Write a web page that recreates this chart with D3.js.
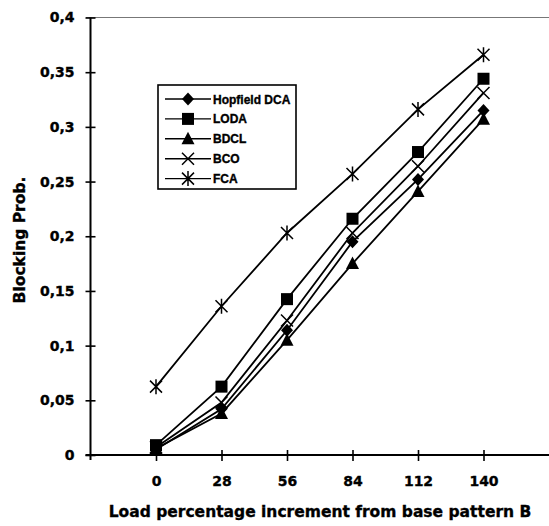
<!DOCTYPE html>
<html><head><meta charset="utf-8">
<script src="https://cdn.jsdelivr.net/npm/d3@7/dist/d3.min.js"></script>
<style>body{margin:0;background:#fff}svg{display:block}</style>
</head><body><svg id="c" width="549" height="526"></svg>
<script>
const categories = [0, 28, 56, 84, 112, 140];
const hopfield = [0.005, 0.042, 0.114, 0.195, 0.252, 0.315];
const loda     = [0.009, 0.0625, 0.1425, 0.216, 0.277, 0.344];
const bdcl     = [0.006, 0.038, 0.105, 0.175, 0.241, 0.307];
const bco      = [0.007, 0.048, 0.123, 0.203, 0.264, 0.331];
const fca      = [0.0625, 0.136, 0.203, 0.257, 0.316, 0.366];
const seriesNames = ["Hopfield DCA", "LODA", "BDCL", "BCO", "FCA"];
const yTicks = [0, 0.05, 0.1, 0.15, 0.2, 0.25, 0.3, 0.35, 0.4];
const yTickLabels = ["0", "0,05", "0,1", "0,15", "0,2", "0,25", "0,3", "0,35", "0,4"];
const xTitle = "Load percentage increment from base pattern B";
const yTitle = "Blocking Prob.";

const series = [
  {name: seriesNames[0], values: hopfield, marker: "diamond"},
  {name: seriesNames[1], values: loda, marker: "square"},
  {name: seriesNames[2], values: bdcl, marker: "triangle"},
  {name: seriesNames[3], values: bco, marker: "x"},
  {name: seriesNames[4], values: fca, marker: "asterisk"}
];

const svg = d3.select("#c");
const x = d3.scaleLinear().domain([-28, 168]).range([90.5, 549]);
const y = d3.scaleLinear().domain([0, 0.4]).range([455, 17.5]);

function heavy(sel) {
  return sel.attr("stroke", "#000").attr("stroke-width", 0.35).attr("fill", "#000");
}

// top frame line
svg.append("line").attr("x1", 86).attr("x2", 549).attr("y1", y(0.4)).attr("y2", y(0.4))
  .attr("stroke", "#777").attr("stroke-width", 1);

// y axis
const yAxis = d3.axisLeft(y).tickValues(yTicks).tickFormat((d,i)=>yTickLabels[i]).tickSize(0).tickPadding(16);
const gy = svg.append("g").attr("transform", `translate(${x(-28)},0)`).call(yAxis);
gy.select(".domain").remove();
heavy(gy.selectAll("text").attr("font-family", "DejaVu Sans").attr("font-weight", "bold").attr("font-size", 14));
gy.selectAll(".tick").append("line").attr("x1", -5).attr("x2", 5).attr("stroke", "#000").attr("stroke-width", 1.6);
svg.append("line").attr("x1", x(-28)).attr("x2", x(-28)).attr("y1", y(0.4)).attr("y2", y(0) + 5)
  .attr("stroke", "#000").attr("stroke-width", 2);

// x axis
const xAxis = d3.axisBottom(x).tickValues(categories).tickFormat(d3.format("d")).tickSize(0).tickPadding(21);
const gx = svg.append("g").attr("transform", `translate(0,${y(0)})`).call(xAxis);
gx.select(".domain").remove();
heavy(gx.selectAll("text").attr("font-family", "DejaVu Sans").attr("font-weight", "bold").attr("font-size", 14));
gx.selectAll(".tick").append("line").attr("y1", -5).attr("y2", 6).attr("stroke", "#000").attr("stroke-width", 1.6);
svg.append("line").attr("x1", x(-28) - 5).attr("x2", 549).attr("y1", y(0)).attr("y2", y(0))
  .attr("stroke", "#000").attr("stroke-width", 2);

// titles
heavy(svg.append("text").attr("x", 320).attr("y", 517).attr("text-anchor", "middle")
  .attr("font-family", "DejaVu Sans").attr("font-weight", "bold").attr("font-size", 15.5).text(xTitle));
heavy(svg.append("text").attr("transform", "translate(25,240) rotate(-90)").attr("text-anchor", "middle")
  .attr("font-family", "DejaVu Sans").attr("font-weight", "bold").attr("font-size", 15.5).text(yTitle));

function drawMarker(g, type, cx, cy) {
  if (type === "diamond") {
    g.append("path").attr("d", `M${cx},${cy-6.5}L${cx+6},${cy}L${cx},${cy+6.5}L${cx-6},${cy}Z`).attr("fill", "#000");
  } else if (type === "square") {
    g.append("rect").attr("x", cx-6).attr("y", cy-6).attr("width", 12).attr("height", 12).attr("fill", "#000");
  } else if (type === "triangle") {
    g.append("path").attr("d", `M${cx},${cy-7}L${cx+6.5},${cy+5.5}L${cx-6.5},${cy+5.5}Z`).attr("fill", "#000");
  } else if (type === "x") {
    g.append("path").attr("d", `M${cx-6},${cy-6}L${cx+6},${cy+6}M${cx+6},${cy-6}L${cx-6},${cy+6}`)
      .attr("stroke", "#000").attr("stroke-width", 1.5).attr("fill", "none");
  } else if (type === "asterisk") {
    g.append("path").attr("d", `M${cx-6},${cy-6}L${cx+6},${cy+6}M${cx+6},${cy-6}L${cx-6},${cy+6}M${cx},${cy-7.5}L${cx},${cy+7.5}`)
      .attr("stroke", "#000").attr("stroke-width", 1.5).attr("fill", "none");
  }
}

const line = d3.line().x((d,i)=>x(categories[i])).y(d=>y(d));
series.forEach(s => {
  svg.append("path").datum(s.values).attr("d", line).attr("fill", "none").attr("stroke", "#000").attr("stroke-width", 1.8);
});
series.forEach(s => {
  const g = svg.append("g");
  s.values.forEach((v,i)=>drawMarker(g, s.marker, x(categories[i]), y(v)));
});

// legend
const lg = svg.append("g");
lg.append("rect").attr("x", 158).attr("y", 85).attr("width", 138).attr("height", 104)
  .attr("fill", "#fff").attr("stroke", "#000").attr("stroke-width", 1.6);
series.forEach((s,i)=>{
  const ly = 99 + i*19.9;
  lg.append("line").attr("x1", 165).attr("x2", 211).attr("y1", ly).attr("y2", ly).attr("stroke", "#000").attr("stroke-width", 1.4);
  drawMarker(lg, s.marker, 188, ly);
  heavy(lg.append("text").attr("x", 213).attr("y", ly + 4.5).attr("font-family", "Liberation Sans").attr("font-weight", "bold")
    .attr("font-size", 12).text(s.name));
});
</script></body></html>
